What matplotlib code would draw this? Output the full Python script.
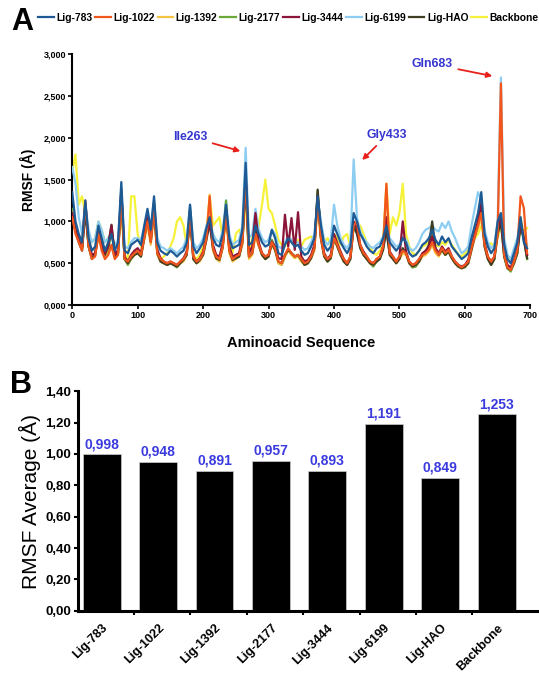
import matplotlib
matplotlib.use("Agg")
import matplotlib.pyplot as plt
import numpy as np
from matplotlib.ticker import FuncFormatter, MultipleLocator

plt.rcParams['font.family'] = ['Liberation Sans', 'DejaVu Sans']

# residue positions (every 5 residues)
residues = list(range(0, 700, 5))

# RMSF per residue (Å)
lig_783 = [1.35, 1.00, 0.85, 0.75, 1.25, 0.80, 0.65, 0.70, 0.95, 0.80,
           0.65, 0.75, 0.85, 0.65, 0.75, 1.47, 0.65, 0.62, 0.72, 0.75,
           0.78, 0.72, 0.95, 1.15, 0.90, 1.30, 0.75, 0.65, 0.62, 0.60,
           0.65, 0.62, 0.58, 0.62, 0.65, 0.75, 1.20, 0.70, 0.62, 0.68,
           0.75, 0.92, 1.05, 0.80, 0.72, 0.70, 0.85, 1.20, 0.80, 0.68,
           0.70, 0.72, 0.90, 1.70, 0.72, 0.75, 0.95, 0.85, 0.75, 0.70,
           0.72, 0.90, 0.80, 0.62, 0.60, 0.72, 0.80, 0.75, 0.70, 0.72,
           0.65, 0.60, 0.62, 0.70, 0.80, 1.30, 0.95, 0.72, 0.65, 0.70,
           0.95, 0.85, 0.75, 0.68, 0.62, 0.70, 1.10, 1.00, 0.85, 0.78,
           0.70, 0.65, 0.62, 0.68, 0.70, 0.80, 0.95, 0.75, 0.70, 0.65,
           0.70, 0.80, 0.75, 0.62, 0.58, 0.60, 0.65, 0.72, 0.75, 0.80,
           0.90, 0.78, 0.72, 0.82, 0.75, 0.80, 0.70, 0.65, 0.60, 0.55,
           0.58, 0.62, 0.80, 0.95, 1.10, 1.35, 0.85, 0.70, 0.62, 0.68,
           1.00, 1.10, 0.72, 0.55, 0.50, 0.62, 0.75, 1.05, 0.75, 0.68]

lig_1022 = [1.05, 0.85, 0.75, 0.65, 1.25, 0.70, 0.55, 0.58, 0.85, 0.65,
            0.55, 0.60, 0.72, 0.55, 0.60, 1.30, 0.55, 0.52, 0.58, 0.62,
            0.65, 0.60, 0.80, 1.00, 0.75, 1.15, 0.62, 0.55, 0.52, 0.50,
            0.52, 0.50, 0.48, 0.52, 0.55, 0.62, 1.10, 0.58, 0.52, 0.55,
            0.62, 0.80, 1.30, 0.68, 0.58, 0.55, 0.70, 1.10, 0.65, 0.55,
            0.58, 0.60, 0.75, 1.55, 0.58, 0.62, 0.85, 0.72, 0.62, 0.58,
            0.60, 0.75, 0.68, 0.52, 0.50, 0.60, 0.68, 0.62, 0.58, 0.60,
            0.55, 0.50, 0.52, 0.58, 0.68, 1.25, 0.80, 0.60, 0.55, 0.58,
            0.80, 0.72, 0.62, 0.55, 0.50, 0.58, 0.95, 1.00, 0.72, 0.62,
            0.58, 0.52, 0.50, 0.55, 0.58, 0.70, 1.45, 0.62, 0.58, 0.52,
            0.58, 0.65, 0.62, 0.52, 0.48, 0.50, 0.55, 0.60, 0.62, 0.66,
            0.75, 0.65, 0.60, 0.68, 0.62, 0.66, 0.58, 0.52, 0.48, 0.45,
            0.48, 0.52, 0.68, 0.82, 0.95, 1.10, 0.72, 0.58, 0.52, 0.58,
            0.85, 2.65, 0.60, 0.45, 0.42, 0.52, 0.65, 1.30, 1.16, 0.62]

lig_1392 = [1.10, 0.90, 0.78, 0.68, 1.20, 0.72, 0.58, 0.60, 0.82, 0.68,
            0.58, 0.62, 0.70, 0.56, 0.62, 1.25, 0.56, 0.50, 0.56, 0.60,
            0.62, 0.58, 0.78, 0.95, 0.72, 1.10, 0.60, 0.52, 0.50, 0.48,
            0.50, 0.48, 0.46, 0.50, 0.52, 0.60, 1.05, 0.55, 0.50, 0.52,
            0.60, 0.78, 1.32, 0.65, 0.55, 0.52, 0.68, 1.05, 0.62, 0.52,
            0.55, 0.58, 0.72, 1.45, 0.55, 0.60, 0.82, 0.70, 0.60, 0.55,
            0.58, 0.72, 0.65, 0.50, 0.48, 0.58, 0.65, 0.60, 0.56, 0.58,
            0.52, 0.48, 0.50, 0.56, 0.65, 1.20, 0.78, 0.58, 0.52, 0.56,
            0.78, 0.70, 0.60, 0.52, 0.48, 0.56, 0.92, 0.90, 0.70, 0.60,
            0.55, 0.50, 0.48, 0.52, 0.56, 0.68, 1.40, 0.60, 0.55, 0.50,
            0.55, 0.62, 0.60, 0.50, 0.46, 0.48, 0.52, 0.58, 0.60, 0.64,
            0.72, 0.62, 0.58, 0.65, 0.60, 0.64, 0.56, 0.50, 0.46, 0.44,
            0.46, 0.50, 0.65, 0.80, 0.92, 1.05, 0.70, 0.56, 0.50, 0.56,
            0.82, 1.05, 0.58, 0.44, 0.42, 0.50, 0.62, 1.05, 0.85, 0.60]

lig_2177 = [1.15, 0.95, 0.80, 0.68, 1.15, 0.70, 0.55, 0.60, 0.90, 0.70,
            0.58, 0.65, 0.90, 0.58, 0.62, 1.35, 0.55, 0.48, 0.55, 0.60,
            0.62, 0.58, 0.82, 1.05, 0.78, 1.20, 0.62, 0.52, 0.50, 0.48,
            0.50, 0.48, 0.45, 0.50, 0.55, 0.62, 1.15, 0.55, 0.50, 0.55,
            0.62, 0.82, 1.00, 0.70, 0.58, 0.55, 0.72, 1.25, 0.68, 0.55,
            0.58, 0.60, 0.78, 1.50, 0.60, 0.62, 0.88, 0.72, 0.60, 0.55,
            0.58, 0.78, 0.68, 0.50, 0.48, 0.58, 0.66, 0.62, 0.58, 0.60,
            0.55, 0.48, 0.50, 0.58, 0.70, 1.36, 0.82, 0.60, 0.52, 0.56,
            0.82, 0.72, 0.62, 0.52, 0.48, 0.56, 0.98, 0.88, 0.70, 0.60,
            0.56, 0.50, 0.46, 0.52, 0.56, 0.68, 0.90, 0.62, 0.56, 0.50,
            0.56, 0.66, 0.62, 0.50, 0.45, 0.46, 0.52, 0.60, 0.62, 0.68,
            0.85, 0.66, 0.60, 0.66, 0.60, 0.64, 0.56, 0.50, 0.46, 0.44,
            0.45, 0.50, 0.68, 0.85, 1.00, 1.20, 0.72, 0.56, 0.48, 0.55,
            0.90, 1.00, 0.58, 0.44, 0.40, 0.50, 0.62, 1.00, 0.80, 0.55]

lig_3444 = [1.10, 0.90, 0.78, 0.68, 1.22, 0.75, 0.60, 0.62, 0.88, 0.72,
            0.62, 0.70, 0.95, 0.60, 0.66, 1.38, 0.58, 0.52, 0.60, 0.65,
            0.68, 0.62, 0.85, 1.10, 0.80, 1.22, 0.66, 0.56, 0.52, 0.50,
            0.52, 0.50, 0.48, 0.52, 0.56, 0.64, 1.12, 0.58, 0.52, 0.56,
            0.64, 0.82, 1.00, 0.72, 0.60, 0.58, 0.74, 1.15, 0.70, 0.58,
            0.60, 0.62, 0.80, 1.55, 0.62, 0.70, 1.10, 0.75, 0.62, 0.58,
            0.60, 0.76, 0.70, 0.56, 0.55, 1.08, 0.70, 1.04, 0.66, 1.11,
            0.58, 0.52, 0.54, 0.60, 0.72, 1.30, 0.84, 0.62, 0.55, 0.60,
            0.85, 0.74, 0.64, 0.55, 0.50, 0.58, 1.00, 0.92, 0.72, 0.64,
            0.58, 0.52, 0.50, 0.55, 0.58, 0.70, 1.05, 0.64, 0.58, 0.52,
            0.58, 1.00, 0.64, 0.52, 0.48, 0.50, 0.55, 0.62, 0.65, 0.70,
            0.82, 0.68, 0.62, 0.70, 0.64, 0.68, 0.58, 0.52, 0.48, 0.46,
            0.48, 0.54, 0.70, 0.86, 1.00, 1.22, 0.75, 0.58, 0.52, 0.58,
            0.92, 1.05, 0.62, 0.48, 0.45, 0.54, 0.66, 1.00, 0.80, 0.60]

lig_6199 = [1.65, 1.45, 1.05, 0.85, 1.20, 0.90, 0.75, 0.80, 1.00, 0.90,
            0.75, 0.80, 0.85, 0.72, 0.78, 1.40, 0.70, 0.68, 0.75, 0.80,
            0.80, 0.78, 0.92, 1.10, 0.95, 1.25, 0.80, 0.70, 0.68, 0.65,
            0.68, 0.65, 0.62, 0.66, 0.70, 0.80, 1.20, 0.75, 0.68, 0.72,
            0.80, 0.95, 1.05, 0.85, 0.78, 0.75, 0.90, 1.25, 0.85, 0.72,
            0.75, 0.78, 0.95, 1.88, 0.80, 0.85, 1.15, 0.90, 0.80, 0.75,
            0.78, 0.90, 0.85, 0.70, 0.68, 0.75, 0.82, 0.78, 0.75, 0.75,
            0.70, 0.66, 0.68, 0.75, 0.85, 1.25, 1.00, 0.78, 0.72, 0.78,
            1.20, 0.95, 0.80, 0.72, 0.68, 0.75, 1.74, 1.05, 0.88, 0.80,
            0.75, 0.70, 0.68, 0.72, 0.75, 0.82, 0.95, 0.80, 0.75, 0.70,
            0.72, 0.82, 0.78, 0.68, 0.65, 0.68, 0.75, 0.85, 0.90, 0.92,
            0.95, 0.90, 0.88, 0.98, 0.92, 1.00, 0.88, 0.80, 0.70, 0.62,
            0.65, 0.70, 0.95, 1.15, 1.35, 1.25, 0.90, 0.75, 0.68, 0.72,
            1.00, 2.72, 0.80, 0.60, 0.55, 0.68, 0.80, 1.00, 0.80, 0.72]

lig_hao = [1.05, 0.88, 0.75, 0.65, 1.12, 0.70, 0.56, 0.60, 0.85, 0.70,
           0.60, 0.72, 0.96, 0.58, 0.62, 1.30, 0.55, 0.50, 0.56, 0.60,
           0.62, 0.58, 0.80, 1.02, 0.76, 1.15, 0.62, 0.52, 0.50, 0.48,
           0.50, 0.48, 0.46, 0.50, 0.54, 0.60, 1.08, 0.55, 0.50, 0.54,
           0.60, 0.78, 0.98, 0.68, 0.56, 0.54, 0.70, 1.15, 0.66, 0.54,
           0.56, 0.58, 0.75, 1.45, 0.58, 0.62, 0.90, 0.72, 0.60, 0.55,
           0.58, 0.74, 0.66, 0.52, 0.50, 0.60, 0.66, 0.62, 0.58, 0.60,
           0.54, 0.48, 0.50, 0.56, 0.68, 1.38, 0.80, 0.58, 0.52, 0.56,
           0.80, 0.70, 0.60, 0.52, 0.48, 0.55, 0.95, 0.85, 0.68, 0.60,
           0.55, 0.50, 0.48, 0.52, 0.55, 0.66, 0.90, 0.60, 0.55, 0.50,
           0.55, 0.68, 0.62, 0.50, 0.46, 0.48, 0.52, 0.60, 0.64, 0.72,
           1.00, 0.68, 0.60, 0.66, 0.60, 0.64, 0.56, 0.50, 0.46, 0.44,
           0.46, 0.50, 0.66, 0.82, 0.98, 1.15, 0.70, 0.55, 0.48, 0.55,
           0.85, 1.00, 0.58, 0.44, 0.42, 0.50, 0.62, 0.95, 0.78, 0.56]

backbone = [1.60, 1.80, 1.20, 1.30, 1.10, 0.85, 0.75, 0.80, 1.00, 0.90,
            0.75, 0.80, 0.85, 0.70, 0.72, 1.10, 0.60, 0.55, 1.30, 1.30,
            0.85, 0.70, 0.80, 0.95, 0.85, 1.10, 0.62, 0.55, 0.58, 0.62,
            0.70, 0.80, 1.00, 1.05, 0.95, 0.70, 1.00, 0.60, 0.55, 0.60,
            0.70, 0.85, 1.30, 0.95, 1.00, 1.05, 0.80, 0.95, 0.75, 0.62,
            0.85, 0.90, 0.80, 1.25, 0.60, 0.80, 1.00, 0.95, 1.20, 1.50,
            1.15, 1.10, 0.95, 0.78, 0.72, 0.70, 0.82, 0.76, 0.72, 0.78,
            0.70, 0.78, 0.80, 0.82, 0.75, 1.20, 0.80, 0.75, 0.80, 0.72,
            0.85, 0.80, 0.72, 0.82, 0.85, 0.70, 0.95, 0.90, 0.95, 0.85,
            0.75, 0.70, 0.62, 0.60, 0.65, 0.72, 1.45, 0.85, 1.05, 0.95,
            1.10, 1.45, 0.85, 0.70, 0.62, 0.60, 0.65, 0.70, 0.72, 0.75,
            0.80, 0.72, 0.70, 0.75, 0.72, 0.78, 0.72, 0.66, 0.60, 0.58,
            0.62, 0.65, 0.72, 0.80, 0.85, 0.95, 0.78, 0.72, 0.74, 0.70,
            0.80, 0.95, 0.68, 0.58, 0.55, 0.62, 0.72, 0.90, 0.88, 0.92]

names = ['Lig-783', 'Lig-1022', 'Lig-1392', 'Lig-2177', 'Lig-3444',
         'Lig-6199', 'Lig-HAO', 'Backbone']
averages = [0.998, 0.948, 0.891, 0.957, 0.893, 1.191, 0.849, 1.253]

series = [lig_783, lig_1022, lig_1392, lig_2177, lig_3444, lig_6199, lig_hao, backbone]
colors = ['#1d5a94', '#f2561d', '#f6c445', '#6aa83a', '#8a1538',
          '#8ecdf2', '#3e3f22', '#f6f23a']
zorders = [9, 8, 5, 4, 7, 3, 6, 2]

fig = plt.figure(figsize=(5.39, 6.75), dpi=100)

# ---- panel A ----
ax1 = fig.add_axes([0.134, 0.548, 0.850, 0.372])
for y, c, lab, z in zip(series, colors, names, zorders):
    ax1.plot(residues, y, color=c, lw=1.6, label=lab, zorder=z)

ax1.set_xlim(0, 700)
ax1.set_ylim(0, 3.0)
ax1.xaxis.set_major_locator(MultipleLocator(100))
ax1.yaxis.set_major_locator(MultipleLocator(0.5))
ax1.yaxis.set_major_formatter(FuncFormatter(lambda v, p: f"{v:.3f}".replace('.', ',')))
for s in ['top', 'right']:
    ax1.spines[s].set_visible(False)
for s in ['left', 'bottom']:
    ax1.spines[s].set_linewidth(1.5)
ax1.tick_params(labelsize=6.5, width=1.2, length=3, pad=1.5)
for t in ax1.get_xticklabels() + ax1.get_yticklabels():
    t.set_fontweight('bold')
ax1.set_xlabel('Aminoacid Sequence', fontsize=10.5, fontweight='bold', labelpad=11)
ax1.set_ylabel('RMSF (Å)', fontsize=10, fontweight='bold', labelpad=5)

arrow = dict(arrowstyle='-|>', color='#e8201c', lw=1.3, mutation_scale=8)
ax1.annotate('Ile263', xy=(261, 1.83), xytext=(180, 2.01), color='#3535d0',
             fontsize=8.8, fontweight='bold', ha='center', va='center', arrowprops=arrow)
ax1.annotate('Gly433', xy=(440, 1.71), xytext=(481, 2.03), color='#3535d0',
             fontsize=8.8, fontweight='bold', ha='center', va='center', arrowprops=arrow)
ax1.annotate('Gln683', xy=(646, 2.73), xytext=(550, 2.88), color='#3535d0',
             fontsize=8.8, fontweight='bold', ha='center', va='center', arrowprops=arrow)

fig.legend(*ax1.get_legend_handles_labels(), loc='center', bbox_to_anchor=(0.535, 0.974),
           ncol=8, frameon=False, handlelength=1.5, handletextpad=0.25,
           columnspacing=0.3, prop={'weight': 'bold', 'size': 7.4})
fig.text(0.02, 0.967, 'A', fontsize=22, fontweight='bold', va='center')

# ---- panel B ----
ax2 = fig.add_axes([0.144, 0.095, 0.856, 0.3255])
xpos = np.arange(len(names))
bars = ax2.bar(xpos, averages, width=0.67, color='black', edgecolor='#cccccc', linewidth=0.5)
for x, v in zip(xpos, averages):
    ax2.text(x, v + 0.02, f"{v:.3f}".replace('.', ','), color='#3a3adf', fontsize=10,
             fontweight='bold', ha='center', va='bottom')
ax2.set_xlim(-0.425, 7.75)
ax2.set_ylim(0, 1.4)
ax2.yaxis.set_major_locator(MultipleLocator(0.2))
ax2.yaxis.set_major_formatter(FuncFormatter(lambda v, p: f"{v:.2f}".replace('.', ',')))
ax2.set_xticks(xpos)
ax2.set_xticklabels(names, rotation=45, ha='right', rotation_mode='anchor',
                    fontsize=9, fontweight='bold')
ax2.tick_params(axis='x', length=0, pad=8)
ax2.set_xticks(xpos[:-1] + 0.57, minor=True)
ax2.tick_params(axis='x', which='minor', length=3, width=1.5)
ax2.tick_params(axis='y', labelsize=9.5, width=1.5, length=3, pad=1.5)
for t in ax2.get_yticklabels():
    t.set_fontweight('bold')
for s in ['top', 'right']:
    ax2.spines[s].set_visible(False)
for s in ['left', 'bottom']:
    ax2.spines[s].set_linewidth(2.2)
ax2.set_ylabel('RMSF Average (Å)', fontsize=15, labelpad=3)
fig.text(0.018, 0.43, 'B', fontsize=22, fontweight='bold', va='center')

fig.savefig('out.png', dpi=100)
